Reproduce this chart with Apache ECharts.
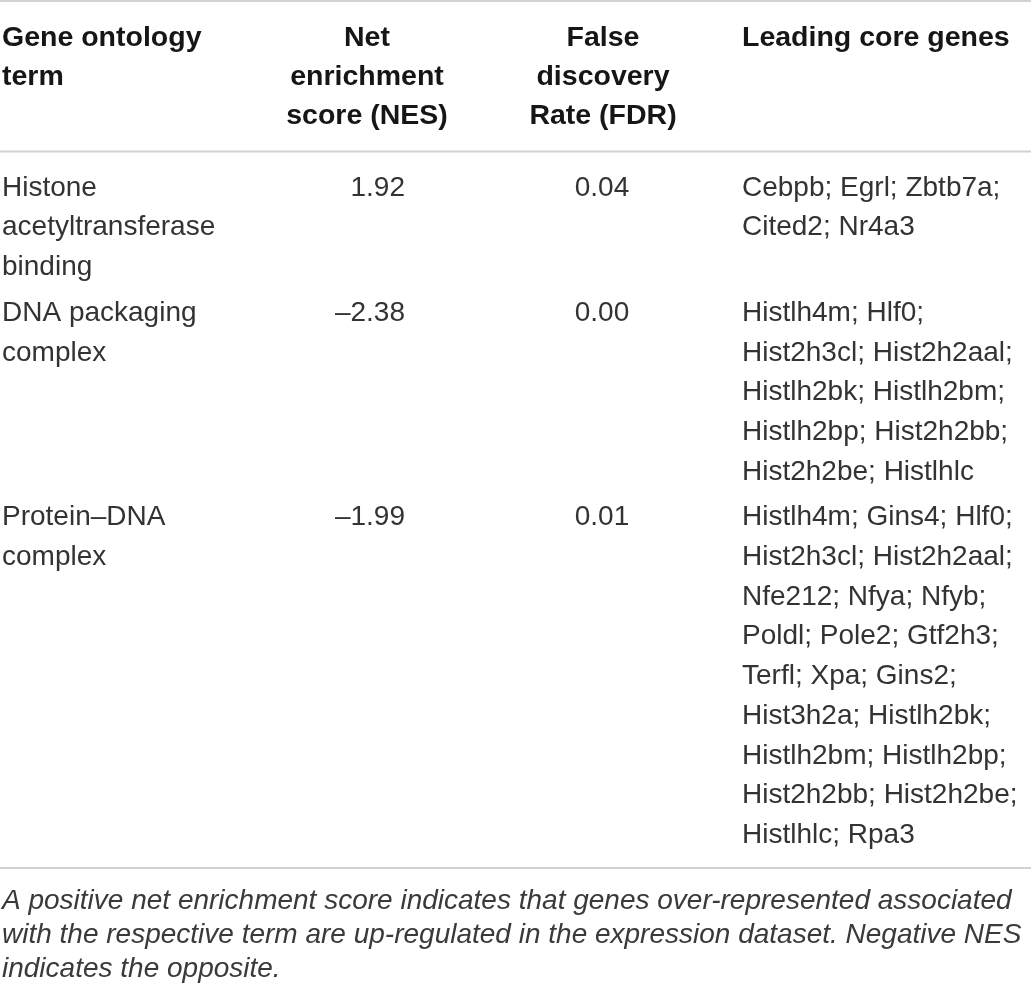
<!DOCTYPE html>
<html><head><meta charset="utf-8">
<script src="https://cdn.jsdelivr.net/npm/echarts@6/dist/echarts.min.js"></script>
<style>html,body{margin:0;padding:0;background:#fff}#c{width:1031px;height:987px}</style>
</head><body><div id="c"></div>
<script>
// ---- data ----
const headers = ['Gene ontology\nterm', 'Net\nenrichment\nscore (NES)', 'False\ndiscovery\nRate (FDR)', 'Leading core genes'];
const terms = ['Histone\nacetyltransferase\nbinding', 'DNA packaging\ncomplex', 'Protein\u2013DNA\ncomplex'];
const nes = [1.92, -2.38, -1.99];
const fdr = [0.04, 0.00, 0.01];
const genes = [
  'Cebpb; Egrl; Zbtb7a;\nCited2; Nr4a3',
  'Histlh4m; Hlf0;\nHist2h3cl; Hist2h2aal;\nHistlh2bk; Histlh2bm;\nHistlh2bp; Hist2h2bb;\nHist2h2be; Histlhlc',
  'Histlh4m; Gins4; Hlf0;\nHist2h3cl; Hist2h2aal;\nNfe212; Nfya; Nfyb;\nPoldl; Pole2; Gtf2h3;\nTerfl; Xpa; Gins2;\nHist3h2a; Histlh2bk;\nHistlh2bm; Histlh2bp;\nHist2h2bb; Hist2h2be;\nHistlhlc; Rpa3'
];
const footnote = 'A positive net enrichment score indicates that genes over-represented associated\nwith the respective term are up-regulated in the expression dataset. Negative NES\nindicates the opposite.';

// ---- layout (styles / positions) ----
const W = 1031, H = 987;
const FONT = '"Liberation Sans", Arial, Helvetica, sans-serif';
const colX = [2, 405, 602, 742];
const headX = [2, 367, 603, 742];
const headAlign = ['left', 'center', 'center', 'left'];
const bodyAlign = ['left', 'right', 'center', 'left'];
const HEAD_TOP = 38, HEAD_LH = 39, HEAD_FS = 28.5;
const BODY_TOP = 188, BODY_LH = 39.7, ROW_GAP = 6, BODY_FS = 28;
const FOOT_TOP = 901, FOOT_LH = 34, FOOT_FS = 28;
const rules = [1, 151.5, 868];

const fmt = v => (v < 0 ? '\u2013' : '') + Math.abs(v).toFixed(2);

const cells = [];
headers.forEach((h, i) => cells.push({x: headX[i], y: HEAD_TOP - HEAD_LH / 2, text: h, align: headAlign[i], lh: HEAD_LH, fs: HEAD_FS, weight: 'bold', style: 'normal', color: '#161616'}));
let y = BODY_TOP;
terms.forEach((t, r) => {
  const row = [t, fmt(nes[r]), fmt(fdr[r]), genes[r]];
  row.forEach((txt, i) => cells.push({x: colX[i], y: y - BODY_LH / 2, text: txt, align: bodyAlign[i], lh: BODY_LH, fs: BODY_FS, weight: 'normal', style: 'normal', color: '#333333'}));
  const n = Math.max.apply(null, row.map(s => String(s).split('\n').length));
  y += n * BODY_LH + ROW_GAP;
});
cells.push({x: 2, y: FOOT_TOP - FOOT_LH / 2, text: footnote, align: 'left', lh: FOOT_LH, fs: FOOT_FS, weight: 'normal', style: 'italic', color: '#3a3a3a'});

const chart = echarts.init(document.getElementById('c'), null, {renderer: 'canvas'});
chart.setOption({
  animation: false,
  backgroundColor: '#fff',
  grid: {left: 0, right: 0, top: 0, bottom: 0},
  xAxis: {type: 'value', min: 0, max: W, show: false},
  yAxis: {type: 'value', min: 0, max: H, inverse: true, show: false},
  series: [
    {
      type: 'custom', silent: true,
      data: rules.map(r => [0, r]),
      renderItem: (params, api) => {
        const a = api.coord([0, api.value(1)]);
        const b = api.coord([W, api.value(1)]);
        return {type: 'line', shape: {x1: a[0], y1: a[1], x2: b[0], y2: b[1]}, style: {stroke: '#d2d2d2', lineWidth: 2}};
      }
    },
    {
      type: 'custom', silent: true,
      data: cells.map(c => [c.x, c.y]),
      renderItem: (params, api) => {
        const c = cells[params.dataIndex];
        const p = api.coord([api.value(0), api.value(1)]);
        return {
          type: 'text', x: p[0], y: p[1],
          style: {
            text: c.text, fill: c.color,
            fontFamily: FONT, fontSize: c.fs, fontWeight: c.weight, fontStyle: c.style,
            align: c.align, verticalAlign: 'top', lineHeight: c.lh
          }
        };
      }
    }
  ]
});
</script></body></html>
